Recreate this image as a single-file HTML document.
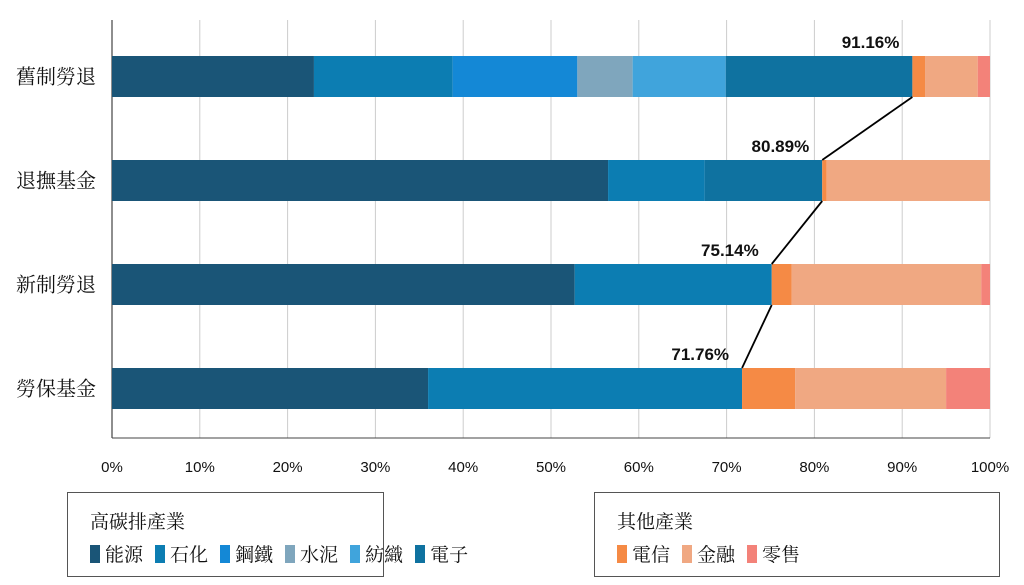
<!DOCTYPE html>
<html><head><meta charset="utf-8"><style>
body{margin:0;background:#fff;width:1024px;height:585px;overflow:hidden;position:relative;font-family:"Liberation Serif","Noto Serif CJK SC",serif}
.leg{position:absolute;border:1.5px solid #555;box-sizing:border-box;background:#fff}
.lt{position:absolute;left:22px;top:14px;font-size:19px;color:#111}
.items{position:absolute;left:22px;top:47px;font-size:19px;color:#111;white-space:nowrap}
.items span.sw{display:inline-block;width:10px;height:18px;vertical-align:-2px;margin-right:5px}
.items span.it{margin-right:12px}
</style></head><body>
<svg id="chart" width="1024" height="585" style="position:absolute;left:0;top:0"></svg>
<div class="leg" style="left:67px;top:492px;width:317px;height:85px">
<div class="lt">高碳排產業</div>
<div class="items">
<span class="it"><span class="sw" style="background:#1a5577"></span>能源</span><span class="it"><span class="sw" style="background:#0c7db2"></span>石化</span><span class="it"><span class="sw" style="background:#1488d6"></span>鋼鐵</span><span class="it"><span class="sw" style="background:#7fa6bd"></span>水泥</span><span class="it"><span class="sw" style="background:#40a4dc"></span>紡織</span><span class="it"><span class="sw" style="background:#0f72a0"></span>電子</span>
</div></div>
<div class="leg" style="left:594px;top:492px;width:406px;height:85px">
<div class="lt">其他產業</div>
<div class="items">
<span class="it"><span class="sw" style="background:#f58a45"></span>電信</span><span class="it"><span class="sw" style="background:#f0a882"></span>金融</span><span class="it"><span class="sw" style="background:#f38279"></span>零售</span>
</div></div>
<script>
const categories=["舊制勞退","退撫基金","新制勞退","勞保基金"];
const seriesNames=["能源","石化","鋼鐵","水泥","紡織","電子","電信","金融","零售"];
const energy=[23.0,56.5,52.7,36.0];
const petrochem=[15.8,11.0,22.44,35.76];
const steel=[14.2,0,0,0];
const cement=[6.3,0,0,0];
const textile=[10.6,0,0,0];
const electronics=[21.26,13.39,0,0];
const telecom=[1.44,0.51,2.26,6.04];
const finance=[6.0,18.6,21.6,17.2];
const retail=[1.4,0,1.0,5.0];
const totals=["91.16%","80.89%","75.14%","71.76%"];
const ticks=[0,10,20,30,40,50,60,70,80,90,100];
const colors=["#1a5577","#0c7db2","#1488d6","#7fa6bd","#40a4dc","#0f72a0","#f58a45","#f0a882","#f38279"];
const series=[energy,petrochem,steel,cement,textile,electronics,telecom,finance,retail];
const svg=document.getElementById('chart');const NS="http://www.w3.org/2000/svg";
const X0=112,X1=990,yTop=56,bandStep=104,barH=41,axisY=438;
const x=v=>X0+(X1-X0)*v/100;
const yb=i=>yTop+i*bandStep;
function mk(t,a){const e=document.createElementNS(NS,t);for(const k in a)e.setAttribute(k,a[k]);svg.appendChild(e);return e;}
ticks.forEach(t=>{
const g=mk('line',{x1:x(t),x2:x(t),y1:20,y2:axisY,stroke:t===0?'#444':'#ccc','stroke-width':t===0?1.2:1});


const l=mk('text',{x:x(t),y:472,'text-anchor':'middle','font-size':15,'font-family':'Liberation Sans, sans-serif',fill:'#111'});l.textContent=t+'%';


});
const ax=mk('line',{x1:X0,x2:X1,y1:axisY,y2:axisY,stroke:'#444'});


const ends=[];
categories.forEach((c,i)=>{
let acc=0;const y=yb(i);
series.forEach((s,j)=>{const v=s[i];if(v>0){const r=mk('rect',{x:x(acc),y:y,width:x(acc+v)-x(acc),height:barH,fill:colors[j]});

}
acc+=v;if(j===5)ends.push(acc);});
const t=mk('text',{x:96,y:y+barH/2+7,'text-anchor':'end','font-size':20,fill:'#111'});t.textContent=c;


});
categories.forEach((c,i)=>{
const e=x(ends[i]),y=yb(i);
if(i<categories.length-1){const ln=mk('line',{x1:e,y1:y+barH,x2:x(ends[i+1]),y2:yb(i+1),stroke:'#000','stroke-width':1.8});

}
const t=mk('text',{x:e-13,y:y-8,'text-anchor':'end','font-size':17,'font-weight':'bold','font-family':'Liberation Sans, sans-serif',fill:'#111'});t.textContent=totals[i];


});
</script>
</body></html>
